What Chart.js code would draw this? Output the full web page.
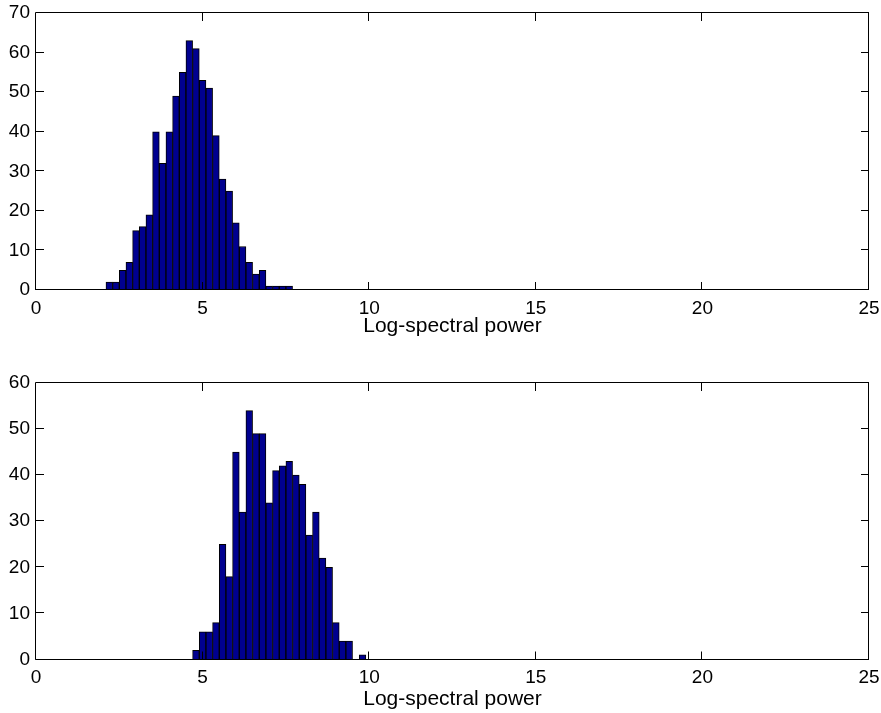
<!DOCTYPE html>
<html>
<head>
<meta charset="utf-8">
<script src="https://cdn.jsdelivr.net/npm/chart.js@4/dist/chart.umd.min.js"></script>
<style>
  html, body { margin: 0; padding: 0; background: #fff; }
  body { width: 881px; height: 713px; position: relative; overflow: hidden; }
  canvas { position: absolute; left: 0; }
  #top-hist { top: 0; }
  #bottom-hist { top: 360px; }
</style>
</head>
<body>
<canvas id="top-hist" width="881" height="345"></canvas>
<canvas id="bottom-hist" width="881" height="353"></canvas>
<script>
// --- DATA (bin centres and counts) ---
const topCenters = [2.2, 2.4, 2.6, 2.8, 3.0, 3.2, 3.4, 3.6, 3.8, 4.0, 4.2, 4.4, 4.6, 4.8,
                    5.0, 5.2, 5.4, 5.6, 5.8, 6.0, 6.2, 6.4, 6.6, 6.8, 7.0, 7.2, 7.4, 7.6];
const topCounts = [2, 2, 5, 7, 15, 16, 19, 40, 32, 40, 49, 55, 63, 61,
                   53, 51, 39, 28, 25, 17, 11, 7, 4, 5, 1, 1, 1, 1];

const bottomCenters = [4.8, 5.0, 5.2, 5.4, 5.6, 5.8, 6.0, 6.2, 6.4, 6.6, 6.8, 7.0, 7.2,
                       7.4, 7.6, 7.8, 8.0, 8.2, 8.4, 8.6, 8.8, 9.0, 9.2, 9.4, 9.6, 9.8];
const bottomCounts = [2, 6, 6, 8, 25, 18, 45, 32, 54, 49, 49, 34, 41,
                      42, 43, 40, 38, 27, 32, 22, 20, 8, 4, 4, 0, 1];

const xTitle = 'Log-spectral power';
const xMax = 25;
const topYMax = 70;
const bottomYMax = 60;

const FONT = "'Liberation Sans', Arial, Helvetica, sans-serif";

// matlab-style box with ticks pointing inwards on all four sides
const boxTicks = {
    id: 'boxTicks',
    afterDraw(chart) {
        const { ctx, chartArea: a, scales: { x, y } } = chart;
        const snap = v => Math.round(v) - 0.5;
        const L = 8;
        ctx.save();
        ctx.strokeStyle = '#000';
        ctx.lineWidth = 1;
        ctx.beginPath();
        ctx.rect(snap(a.left), snap(a.top), Math.round(a.right) - Math.round(a.left), Math.round(a.bottom) - Math.round(a.top));
        x.ticks.forEach(t => {
            const px = snap(x.getPixelForValue(t.value));
            ctx.moveTo(px, a.bottom); ctx.lineTo(px, a.bottom - L);
            ctx.moveTo(px, a.top); ctx.lineTo(px, a.top + L);
        });
        y.ticks.forEach(t => {
            const py = snap(y.getPixelForValue(t.value));
            ctx.moveTo(a.left, py); ctx.lineTo(a.left + L, py);
            ctx.moveTo(a.right, py); ctx.lineTo(a.right - L, py);
        });
        ctx.stroke();
        ctx.restore();
    }
};

function makeHist(id, centers, counts, yMax, opts) {
    const ctx = document.getElementById(id).getContext('2d');
    return new Chart(ctx, {
        type: 'bar',
        data: {
            datasets: [{
                data: centers.map((c, i) => ({ x: c, y: counts[i] })),
                backgroundColor: 'rgb(0, 0, 143)',
                borderColor: '#000',
                borderWidth: 1,
                borderSkipped: 'bottom',
                barPercentage: 1,
                categoryPercentage: 1
            }]
        },
        options: {
            responsive: false,
            animation: false,
            events: [],
            layout: { padding: { top: opts.padTop, right: 12, left: 0, bottom: 0 } },
            plugins: { legend: { display: false }, tooltip: { enabled: false } },
            scales: {
                x: {
                    type: 'linear',
                    min: 0,
                    max: xMax,
                    offset: false,
                    grid: { display: false, drawTicks: false },
                    border: { display: false },
                    ticks: { stepSize: 5, padding: 7, color: '#000', font: { family: FONT, size: 19 } },
                    title: {
                        display: true,
                        text: xTitle,
                        color: '#000',
                        font: { family: FONT, size: 21 },
                        padding: { top: 0, bottom: opts.titleBottom }
                    },
                    afterFit: s => {
                        s.height = opts.xHeight;
                        s.paddingLeft = 0;
                        s.paddingRight = 0;
                    }
                },
                y: {
                    min: 0,
                    max: yMax,
                    grid: { display: false, drawTicks: false },
                    border: { display: false },
                    ticks: { stepSize: 10, padding: 6, color: '#000', font: { family: FONT, size: 19 } },
                    afterFit: s => {
                        s.width = 36;
                        s.paddingTop = 0;
                        s.paddingBottom = 0;
                    }
                }
            }
        },
        plugins: [boxTicks]
    });
}

makeHist('top-hist', topCenters, topCounts, topYMax, { padTop: 13, xHeight: 55, titleBottom: 6 });
makeHist('bottom-hist', bottomCenters, bottomCounts, bottomYMax, { padTop: 23, xHeight: 53.5, titleBottom: 1 });
</script>
</body>
</html>
